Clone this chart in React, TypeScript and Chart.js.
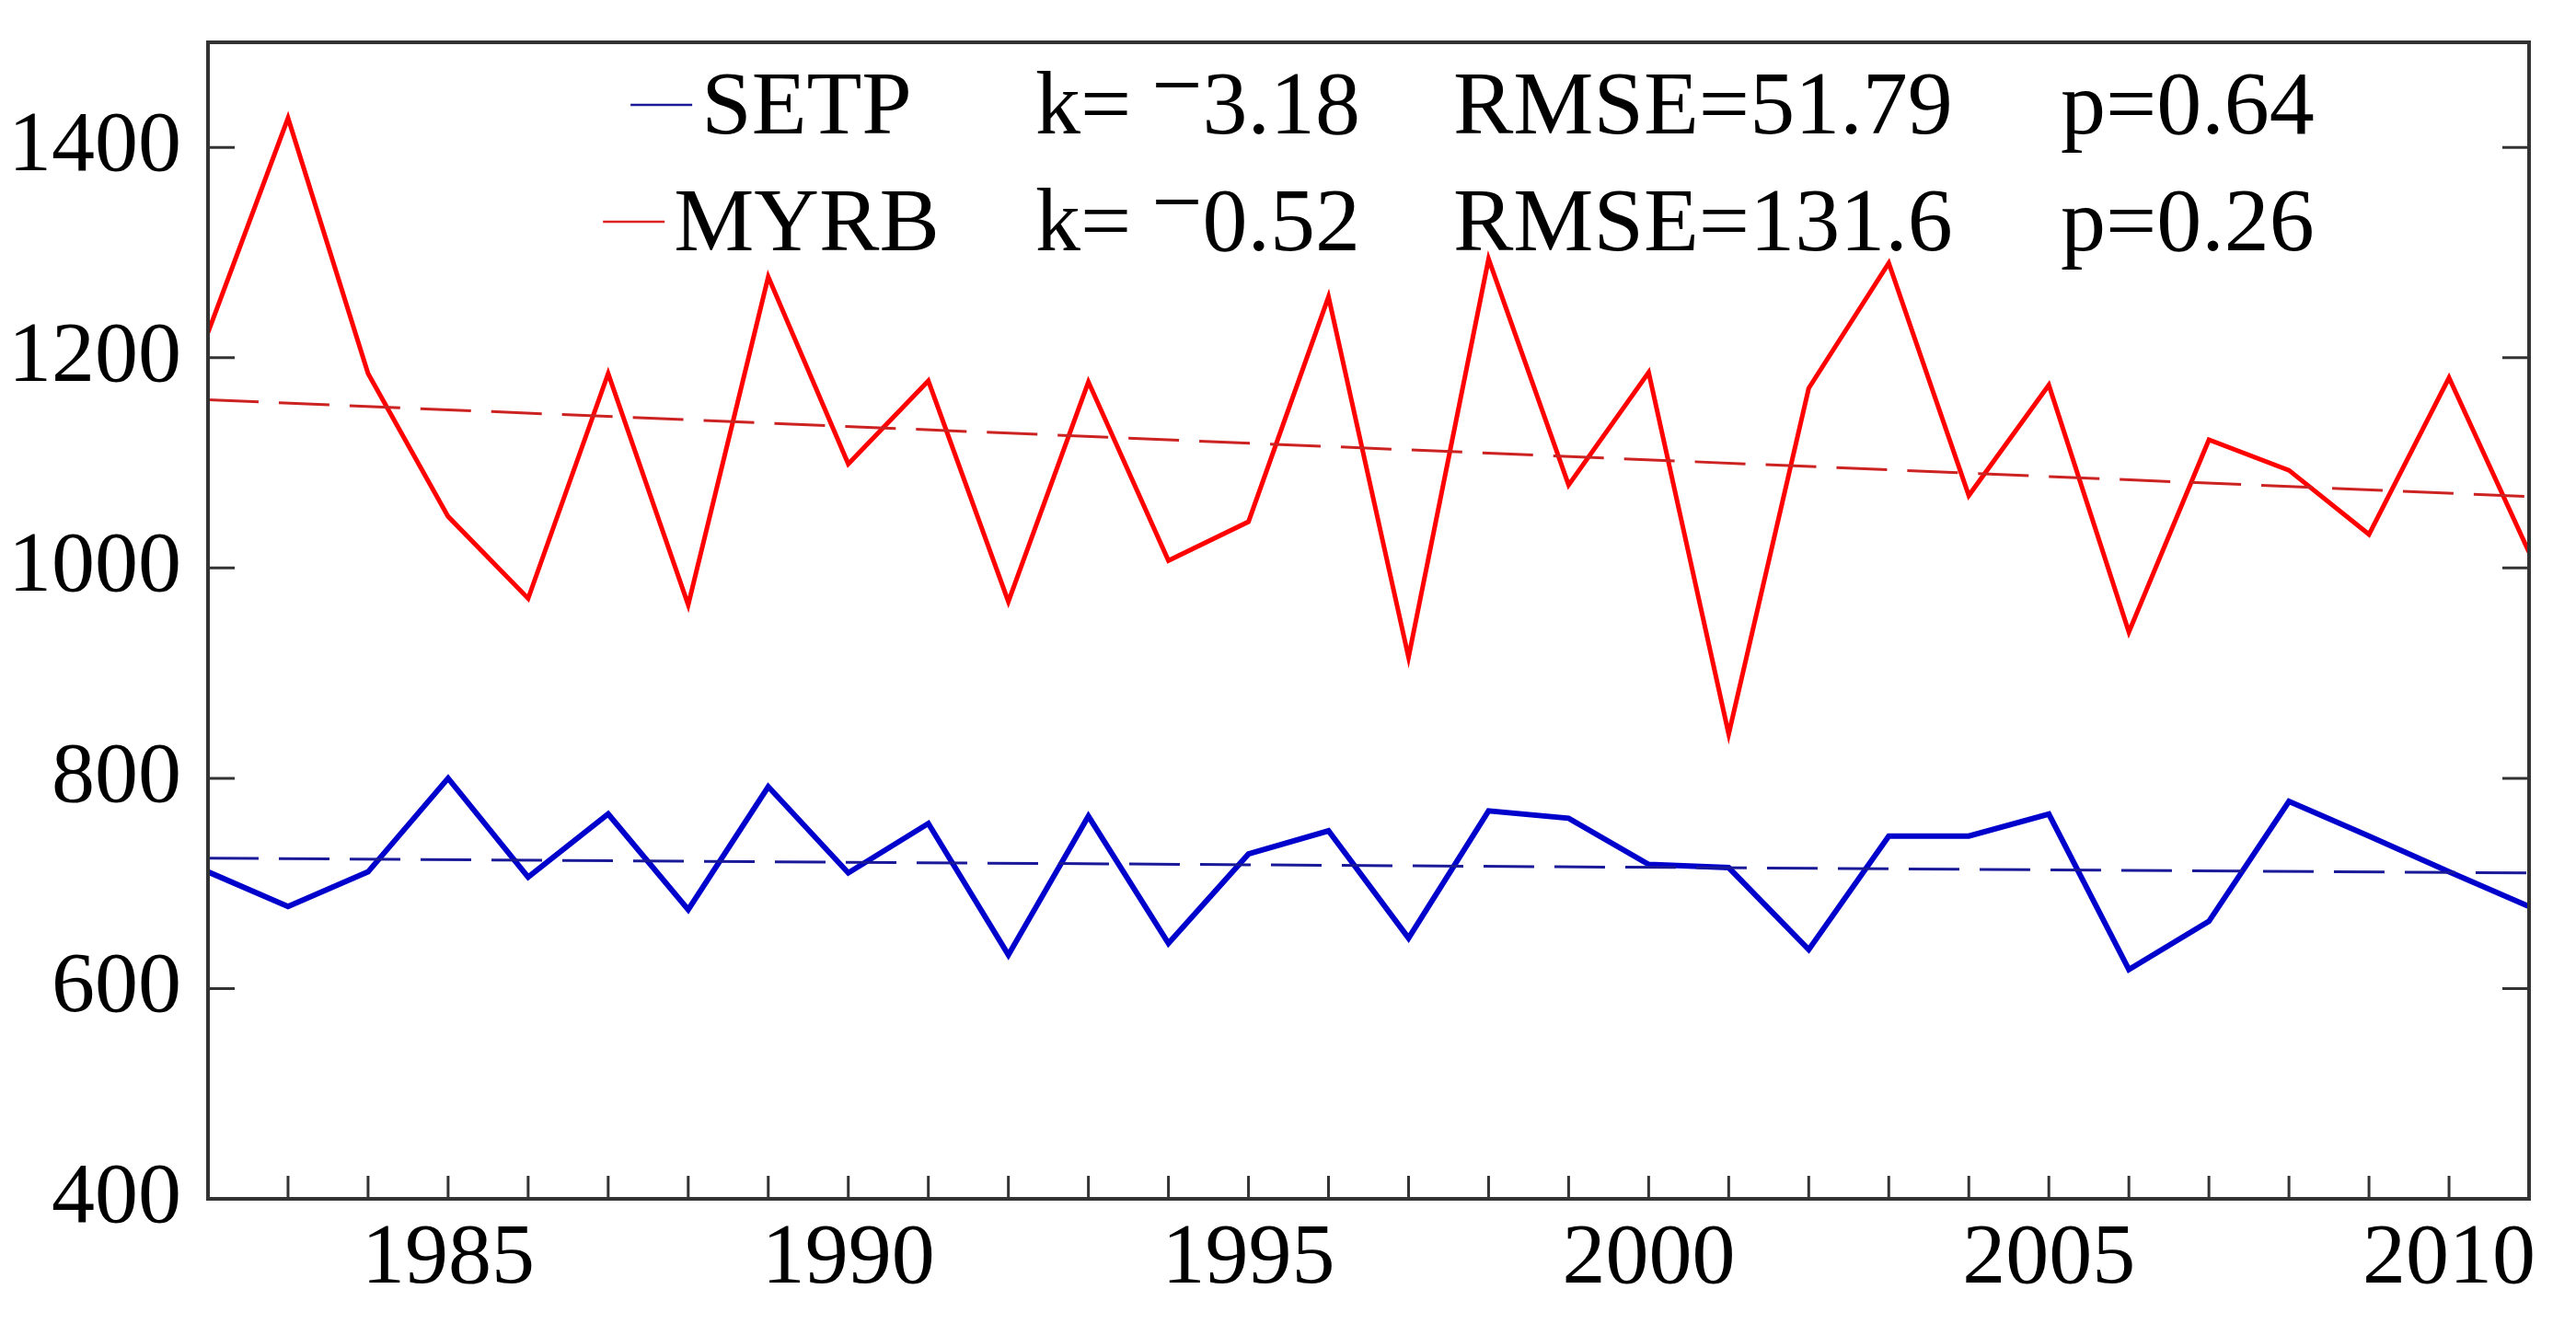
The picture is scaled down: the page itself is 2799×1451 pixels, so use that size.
import { useEffect, useRef } from 'react';
import { Chart, registerables } from 'chart.js';

Chart.register(...registerables);

// years on the x axis
const years = [
    1982, 1983, 1984, 1985, 1986, 1987, 1988, 1989, 1990, 1991,
    1992, 1993, 1994, 1995, 1996, 1997, 1998, 1999, 2000, 2001,
    2002, 2003, 2004, 2005, 2006, 2007, 2008, 2009, 2010, 2011,
];

// SETP series (blue)
const setp = [
    711, 678, 711, 800, 706, 766, 675, 792, 710, 757,
    632, 764, 643, 728, 750, 648, 769, 762, 718, 715,
    637, 745, 745, 766, 618, 664, 778, 745, 711, 678,
];

// MYRB series (red)
const myrb = [
    1224, 1428, 1185, 1049, 971, 1185, 965, 1277, 1099, 1178,
    968, 1177, 1007, 1044, 1258, 915, 1294, 1079, 1186, 842,
    1171, 1290, 1069, 1174, 939, 1122, 1093, 1032, 1181, 1015,
];

// linear trend end values (1982, 2011)
const setpTrend = [724, 710];
const myrbTrend = [1160, 1068];

const xTicks = [1985, 1990, 1995, 2000, 2005, 2010];
const yTicks = [400, 600, 800, 1000, 1200, 1400];

const legendNames = ['SETP', 'MYRB'];
const legendK = ['k= \u22123.18', 'k= \u22120.52'];
const legendRmse = ['RMSE=51.79', 'RMSE=131.6'];
const legendP = ['p=0.64', 'p=0.26'];

const BLUE = '#0000cc';
const RED = '#ff0000';
const FONT = "'Liberation Serif', 'Times New Roman', serif";

// draws "k= −x" with the minus lifted a little, like the original figure
const drawK = (ctx: CanvasRenderingContext2D, text: string, x: number, base: number) => {
    const idx = text.indexOf('\u2212');
    if (idx < 0) {
        ctx.fillText(text, x, base);
        return;
    }
    const head = text.slice(0, idx).trimEnd();
    const tail = text.slice(idx + 1);
    ctx.fillText(head, x, base);
    let cx = x + ctx.measureText(head).width + 22;
    ctx.fillText('\u2212', cx, base - 20);
    cx += ctx.measureText('\u2212').width;
    ctx.fillText(tail, cx, base);
};

const framePlugin = {
    id: 'frame',
    afterDraw(chart: any) {
        const { ctx, chartArea: a, scales } = chart;
        ctx.save();
        ctx.strokeStyle = '#333333';
        // inward year ticks on the bottom axis
        ctx.lineWidth = 3;
        years.forEach((yr) => {
            const x = scales.x.getPixelForValue(yr);
            if (x <= a.left + 2 || x >= a.right - 2) return;
            ctx.beginPath();
            ctx.moveTo(x, a.bottom);
            ctx.lineTo(x, a.bottom - 25);
            ctx.stroke();
        });
        // inward value ticks on left and right
        yTicks.forEach((v) => {
            const y = scales.y.getPixelForValue(v);
            ctx.beginPath();
            ctx.moveTo(a.left, y);
            ctx.lineTo(a.left + 29, y);
            ctx.moveTo(a.right, y);
            ctx.lineTo(a.right - 29, y);
            ctx.stroke();
        });
        ctx.lineWidth = 4;
        ctx.strokeRect(a.left, a.top, a.right - a.left, a.bottom - a.top);

        // legend block with statistics
        ctx.font = `98px ${FONT}`;
        ctx.fillStyle = '#000';
        ctx.textBaseline = 'alphabetic';
        ctx.textAlign = 'left';
        const colors = ['#1a1a99', '#dd2222'];
        const baselines = [a.top + 99, a.top + 226];
        const center = 838;
        legendNames.forEach((name, i) => {
            const base = baselines[i];
            const tw = ctx.measureText(name).width;
            const block = 67 + 10 + tw;
            const start = center - block / 2;
            ctx.strokeStyle = colors[i];
            ctx.lineWidth = 2.5;
            ctx.beginPath();
            ctx.moveTo(start, base - 31);
            ctx.lineTo(start + 67, base - 31);
            ctx.stroke();
            ctx.fillText(name, start + 77, base);
            drawK(ctx, legendK[i], 1125, base);
            ctx.fillText(legendRmse[i], 1579, base);
            ctx.fillText(legendP[i], 2239, base);
        });
        ctx.restore();
    },
};

const App = () => {
    const canvas = useRef<HTMLCanvasElement>(null);

    useEffect(() => {
        const chart = new Chart(canvas.current as HTMLCanvasElement, {
            type: 'line',
            data: {
                datasets: [
                    {
                        label: 'MYRB trend',
                        data: [
                            { x: years[0], y: myrbTrend[0] },
                            { x: years[years.length - 1], y: myrbTrend[1] },
                        ],
                        borderColor: '#cc2222',
                        borderWidth: 3,
                        borderDash: [55, 22],
                        pointRadius: 0,
                    },
                    {
                        label: 'SETP trend',
                        data: [
                            { x: years[0], y: setpTrend[0] },
                            { x: years[years.length - 1], y: setpTrend[1] },
                        ],
                        borderColor: '#1a1a99',
                        borderWidth: 3,
                        borderDash: [55, 22],
                        pointRadius: 0,
                    },
                    {
                        label: 'MYRB',
                        data: years.map((x, i) => ({ x, y: myrb[i] })),
                        borderColor: RED,
                        borderWidth: 5,
                        pointRadius: 0,
                        tension: 0,
                    },
                    {
                        label: 'SETP',
                        data: years.map((x, i) => ({ x, y: setp[i] })),
                        borderColor: BLUE,
                        borderWidth: 6,
                        pointRadius: 0,
                        tension: 0,
                    },
                ],
            },
            options: {
                animation: false,
                responsive: true,
                maintainAspectRatio: false,
                devicePixelRatio: 1,
                layout: { padding: { top: 46, right: 51, left: 0, bottom: 0 } },
                plugins: {
                    legend: { display: false },
                    tooltip: { enabled: false },
                },
                scales: {
                    x: {
                        type: 'linear',
                        min: 1982,
                        max: 2011,
                        grid: { display: false },
                        border: { display: false },
                        afterBuildTicks: (s: any) => {
                            s.ticks = xTicks.map((v) => ({ value: v }));
                        },
                        afterFit: (s: any) => {
                            s.height = 148;
                            s.paddingLeft = 0;
                            s.paddingRight = 0;
                        },
                        ticks: {
                            color: '#000',
                            padding: 2,
                            maxRotation: 0,
                            autoSkip: false,
                            font: { family: FONT, size: 94 },
                            callback: (v: any) => String(v),
                        },
                    },
                    y: {
                        min: 400,
                        max: 1500,
                        grid: { display: false },
                        border: { display: false },
                        afterBuildTicks: (s: any) => {
                            s.ticks = yTicks.map((v) => ({ value: v }));
                        },
                        afterFit: (s: any) => {
                            s.width = 226;
                            s.paddingTop = 0;
                            s.paddingBottom = 0;
                        },
                        ticks: {
                            color: '#000',
                            padding: 21,
                            autoSkip: false,
                            font: { family: FONT, size: 94 },
                            callback: (v: any) => String(v),
                        },
                    },
                },
            },
            plugins: [framePlugin],
        });

        return () => {
            chart.destroy();
        };
    }, []);

    return (
        <div style={{ position: 'fixed', left: 0, top: 0, width: 2799, height: 1451, background: '#fff' }}>
            <canvas ref={canvas} aria-label="SETP and MYRB annual series 1982-2011" role="img"></canvas>
        </div>
    );
};

export default App;
